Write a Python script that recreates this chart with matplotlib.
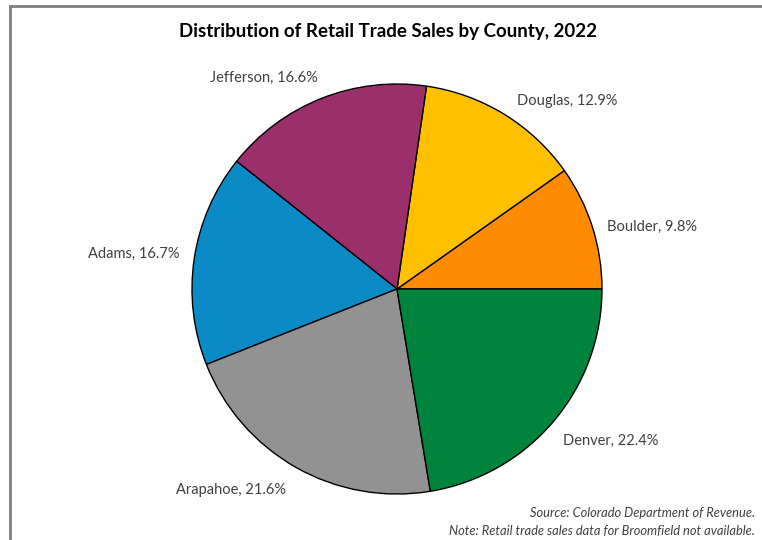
import matplotlib.pyplot as plt
import numpy as np

counties = ['Boulder', 'Douglas', 'Jefferson', 'Adams', 'Arapahoe', 'Denver']
shares = [9.8, 12.9, 16.6, 16.7, 21.6, 22.4]
colors = ['#FF8C00', '#FFC000', '#9A2F6B', '#0A8BC6', '#929292', '#00833D']

# label anchor points (pixels from top-left) and alignment
label_pos = {
    'Boulder': (607, 227, 'left'),
    'Douglas': (517, 101, 'left'),
    'Jefferson': (318, 78, 'right'),
    'Adams': (180, 254, 'right'),
    'Arapahoe': (286, 490, 'right'),
    'Denver': (563, 441, 'left'),
}

W, H = 762, 540
plt.rcParams['font.family'] = ['Lato', 'DejaVu Sans']

fig = plt.figure(figsize=(W / 100, H / 100), dpi=100)
ax = fig.add_axes([0, 0, 1, 1])

ax.pie(shares, colors=colors, startangle=0, counterclock=True,
       center=(397, H - 289), radius=205, frame=True,
       wedgeprops=dict(edgecolor='black', linewidth=1.0))
ax.set_xlim(0, W)
ax.set_ylim(0, H)
ax.set_aspect('auto')
ax.axis('off')

for name, val in zip(counties, shares):
    x, y, ha = label_pos[name]
    ax.text(x, H - y, f'{name}, {val}%', ha=ha, va='center', fontsize=10.5, color='#404040')

ax.text(388, H - 31, 'Distribution of Retail Trade Sales by County, 2022',
        ha='center', va='center', fontsize=13.5, fontweight='bold', color='black')

ax.text(755, H - 513, 'Source: Colorado Department of Revenue.', ha='right', va='center',
        fontsize=9.3, style='italic', color='#404040')
ax.text(755, H - 531, 'Note: Retail trade sales data for Broomfield not available.', ha='right',
        va='center', fontsize=9.3, style='italic', color='#404040')

# frame lines
ax.plot([10, 10], [0, H - 6], color='#7f7f7f', linewidth=2)
ax.plot([10, W], [H - 6, H - 6], color='#7f7f7f', linewidth=2)

fig.savefig('out.png', dpi=100)
